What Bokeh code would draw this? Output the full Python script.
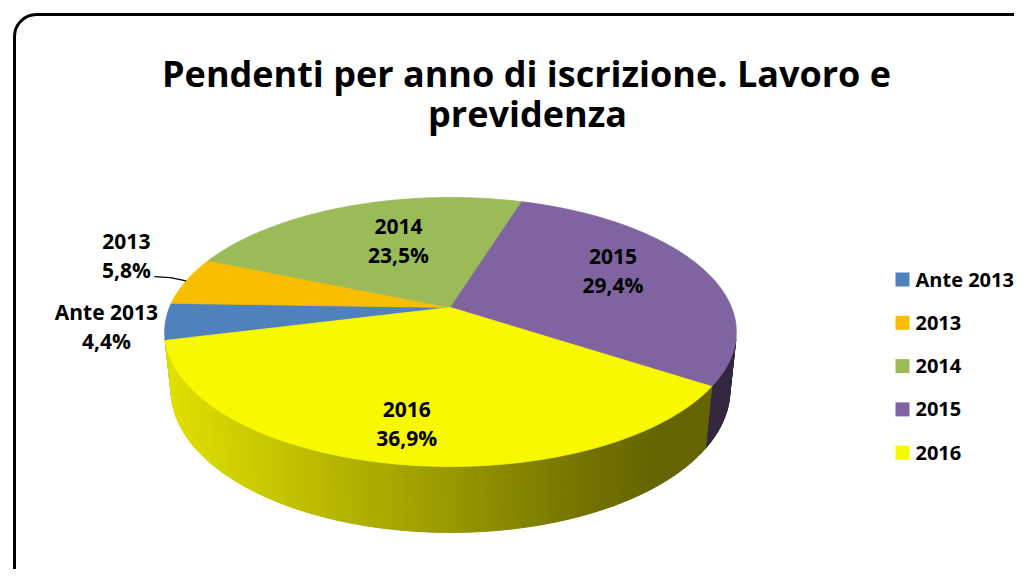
import numpy as np
from bokeh.plotting import figure
from bokeh.models import Range1d, BoxAnnotation, ColumnDataSource
from bokeh.embed import file_html
from bokeh.resources import INLINE
from bokeh.core.properties import value

# ---------------- data ----------------
categories = ["Ante 2013", "2013", "2014", "2015", "2016"]
shares = [4.4, 5.8, 23.5, 29.4, 36.9]
share_labels = ["4,4%", "5,8%", "23,5%", "29,4%", "36,9%"]
top_colors = ["#4F81BD", "#F9BE00", "#9BBB59", "#8064A2", "#F8F800"]
side_rgb = [(79, 129, 189), (255, 192, 0), (155, 187, 89), (128, 100, 162), (255, 255, 0)]
title_lines = ["Pendenti per anno di iscrizione. Lavoro e", "previdenza"]

# ---------------- style / geometry ----------------
W, H = 1014, 569
OX, OY = 0, 0                      # data units == picture pixels
CX, CY = 450.0, 307.0              # projected pie centre
SIN_T, COS_T = 0.4627, 0.8865      # view elevation
DIST, FOCAL, THICK = 4.870, 1368.6, 0.237
START_DEG = 194.0                  # angle of first slice edge
LABEL_R = np.array([1.201, 1.316, 0.600, 0.677, 0.782])
LABEL_DT = np.array([0.7, -6.8, -5.1, 6.1, -0.3])
LEADER = [False, True, False, False, False]
FONT = value("Open Sans")


def proj(x, z, y=0.0):
    depth = DIST + z * COS_T - y * SIN_T
    v = y * COS_T + z * SIN_T
    return CX + FOCAL * x / depth, CY - FOCAL * v / depth


def brightness(px):
    return np.interp(px, [165, 250, 450, 560, 650, 740], [0.88, 0.80, 0.60, 0.48, 0.40, 0.39])


total = float(sum(shares))
cum = np.concatenate([[0.0], np.cumsum(shares)])
a0 = START_DEG - 360.0 * cum[:-1] / total
a1 = START_DEG - 360.0 * cum[1:] / total

p = figure(width=W, height=H, x_range=Range1d(OX, OX + W), y_range=Range1d(OY + H, OY),
           output_backend="svg", toolbar_location=None, min_border=0,
           x_axis_type=None, y_axis_type=None)
p.grid.visible = False
p.outline_line_color = None
p.background_fill_color = "white"
p.border_fill_color = "white"

# ---- side walls ----
lim = np.degrees(np.arcsin(1.0 / (DIST * COS_T)))
vis_lo, vis_hi = 180.0 + lim, 360.0 - lim
wx, wy, wc = [], [], []
for i, (s, e) in enumerate(zip(a0, a1)):
    for k in (-360.0, 0.0, 360.0):
        lo = max(e + k, vis_lo)
        hi = min(s + k, vis_hi)
        if hi <= lo:
            continue
        n = max(int(np.ceil(hi - lo)), 1)
        edges = np.linspace(lo, hi, n + 1)
        for t1, t2 in zip(edges[:-1], edges[1:]):
            th = np.radians([t1, t2])
            tx, ty = proj(np.cos(th), np.sin(th))
            bx, by = proj(np.cos(th), np.sin(th), -THICK)
            wx.append([tx[0], tx[1], bx[1], bx[0]])
            wy.append([ty[0], ty[1], by[1], by[0]])
            f = float(brightness((tx[0] + tx[1]) / 2))
            r, g, b = side_rgb[i]
            wc.append("#%02x%02x%02x" % (int(r * f), int(g * f), int(b * f)))
p.patches(xs=wx, ys=wy, fill_color=wc, line_color=wc, line_width=1)

# ---- top faces ----
sx, sy = [], []
for s, e in zip(a0, a1):
    n = max(int(abs(s - e) / 0.5), 4)
    th = np.radians(np.linspace(s, e, n))
    px, py = proj(np.cos(th), np.sin(th))
    sx.append([CX] + list(px))
    sy.append([CY] + list(py))
p.patches(xs=sx, ys=sy, fill_color=top_colors, line_color=top_colors, line_width=0.8)

# ---- data labels ----
mid = (a0 + a1) / 2.0
lm = np.radians(mid + LABEL_DT)
lx, ly = proj(LABEL_R * np.cos(lm), LABEL_R * np.sin(lm))
lab = ColumnDataSource(dict(x=list(lx) * 2, y=list(ly - 14.3) + list(ly + 14.3),
                            t=categories + share_labels))
p.text(x="x", y="y", text="t", source=lab, text_font=FONT, text_font_style="bold",
       text_font_size="21px", text_align="center", text_baseline="middle", text_color="black")

for i in range(len(categories)):
    if LEADER[i]:
        rx, ry = proj(np.cos(np.radians(mid[i])), np.sin(np.radians(mid[i])))
        p.line(x=[lx[i] + 28, lx[i] + 44, rx], y=[ly[i] + 21, ly[i] + 22, ry],
               line_color="black", line_width=1.3)

# ---- legend ----
leg_y = 279 + 43.3 * np.arange(len(categories))
leg = ColumnDataSource(dict(y=leg_y, c=top_colors, t=categories))
p.scatter(x=902, y="y", source=leg, marker="square", size=14, fill_color="c", line_color=None)
p.text(x=915, y="y", text="t", source=leg, text_font=FONT, text_font_style="bold",
       text_font_size="20px", text_align="left", text_baseline="middle", text_color="black")

# ---- title ----
p.text(x=[526, 527], y=[72.5, 112.5], text=title_lines, text_font=FONT, text_font_style="bold",
       text_font_size="36px", text_align="center", text_baseline="alphabetic", text_color="black")

# ---- rounded border ----
p.add_layout(BoxAnnotation(left=14, right=1045, top=14, bottom=598, border_radius=22,
                           fill_alpha=0, line_color="black", line_alpha=1.0, line_width=3))

open("out.html", "w").write(file_html(p, INLINE))
